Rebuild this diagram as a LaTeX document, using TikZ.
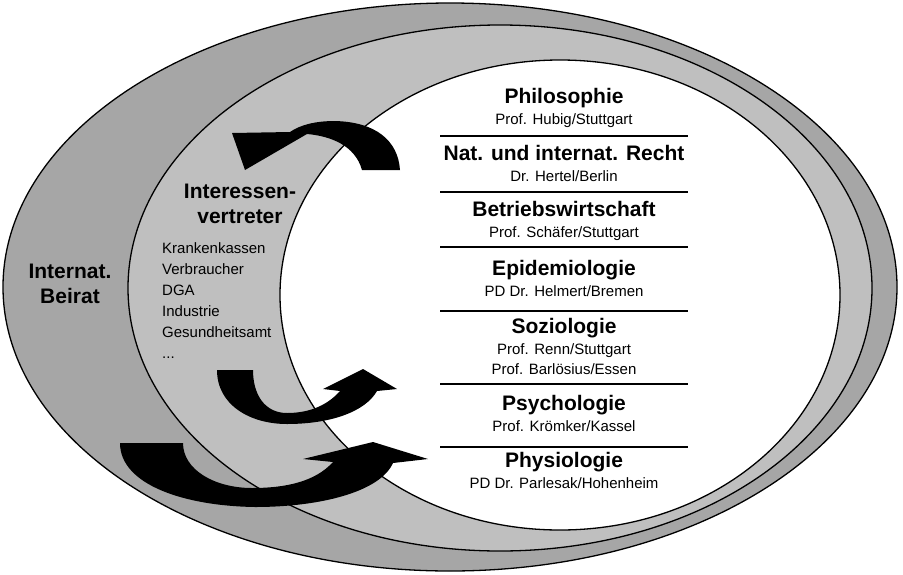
\documentclass[tikz,border=0pt]{standalone}
\usepackage{fontspec}
\setmainfont{Liberation Sans}
\usetikzlibrary{positioning}
\definecolor{OuterGray}{gray}{0.65}
\definecolor{MidGray}{gray}{0.75}

\begin{document}
\begin{tikzpicture}[
  x=1pt,y=-1pt,node distance=5.5pt,
  field/.style={font=\fontsize{21}{23}\selectfont\bfseries,inner sep=0pt,text height=15pt,text depth=4pt},
  person/.style={font=\fontsize{15}{17}\selectfont,inner sep=0pt,text height=11pt,text depth=3pt},
  ring/.style={draw=black,line width=1.3pt},
  flow/.style={fill=black}
]
  \useasboundingbox (0,0) rectangle (903,574);
  % the three rings
  \path[ring,fill=OuterGray] (450,287) ellipse [x radius=447,y radius=284];
  \path[ring,fill=MidGray] (500,288) ellipse [x radius=372,y radius=263];
  \path[ring,fill=white] (560,295) ellipse [x radius=280,y radius=235];
  % separators
  \foreach \y in {136,192,247,311,384,447}
    \draw[line width=1.6pt] (440,\y) -- (688,\y);
  % disciplines
  \node[field] (philo) at (564,98) {Philosophie};
  \node[person,below=of philo] (philop) {Prof. Hubig/Stuttgart};
  \node[field] (recht) at (564,155) {Nat. und internat. Recht};
  \node[person,below=of recht] (rechtp) {Dr. Hertel/Berlin};
  \node[field] (bwl) at (564,211) {Betriebswirtschaft};
  \node[person,below=of bwl] (bwlp) {Prof. Schäfer/Stuttgart};
  \node[field] (epi) at (564,270) {Epidemiologie};
  \node[person,below=of epi] (epip) {PD Dr. Helmert/Bremen};
  \node[field] (sozio) at (564,328) {Soziologie};
  \node[person,below=of sozio] (soziop) {Prof. Renn/Stuttgart};
  \node[person,below=6pt of soziop] (soziopp) {Prof. Barlösius/Essen};
  \node[field] (psych) at (564,405) {Psychologie};
  \node[person,below=of psych] (psychp) {Prof. Krömker/Kassel};
  \node[field] (physio) at (564,462) {Physiologie};
  \node[person,below=of physio] (physiop) {PD Dr. Parlesak/Hohenheim};
  % stakeholders and board
  \node[field] (interessen) at (240,193) {Interessen-};
  \node[field,below=6pt of interessen] (vertreter) {vertreter};
  \node[anchor=north west,align=left,inner sep=0pt,font=\fontsize{15}{21}\selectfont] (gruppen) at (162,242)
    {Krankenkassen\\Verbraucher\\DGA\\Industrie\\Gesundheitsamt\\...};
  \node[field] (internat) at (70,273) {Internat.};
  \node[field,below=6pt of internat] (beirat) {Beirat};
  % curved arrows
  \fill[flow] (362,170) -- (400,170) .. controls (398,140) and (375,122) .. (335,121)
    .. controls (315,121) and (300,125) .. (290,132) -- (232,133) -- (245,170) -- (307,134)
    .. controls (330,136) and (355,145) .. cycle;
  \fill[flow] (217,370) .. controls (217,405) and (250,424) .. (287,424)
    .. controls (330,424) and (365,412) .. (377,391) -- (397,389) -- (363,369) -- (323,389) -- (340,391)
    .. controls (325,408) and (305,413) .. (287,413) .. controls (265,413) and (253,395) .. (253,370) -- cycle;
  \fill[flow] (120,443) .. controls (120,485) and (185,506) .. (255,507)
    .. controls (320,507) and (380,492) .. (393,463) -- (428,459) -- (373,442) -- (303,459) -- (333,462)
    .. controls (315,482) and (285,488) .. (252,488) .. controls (215,488) and (183,470) .. (183,443) -- cycle;
\end{tikzpicture}
\end{document}
